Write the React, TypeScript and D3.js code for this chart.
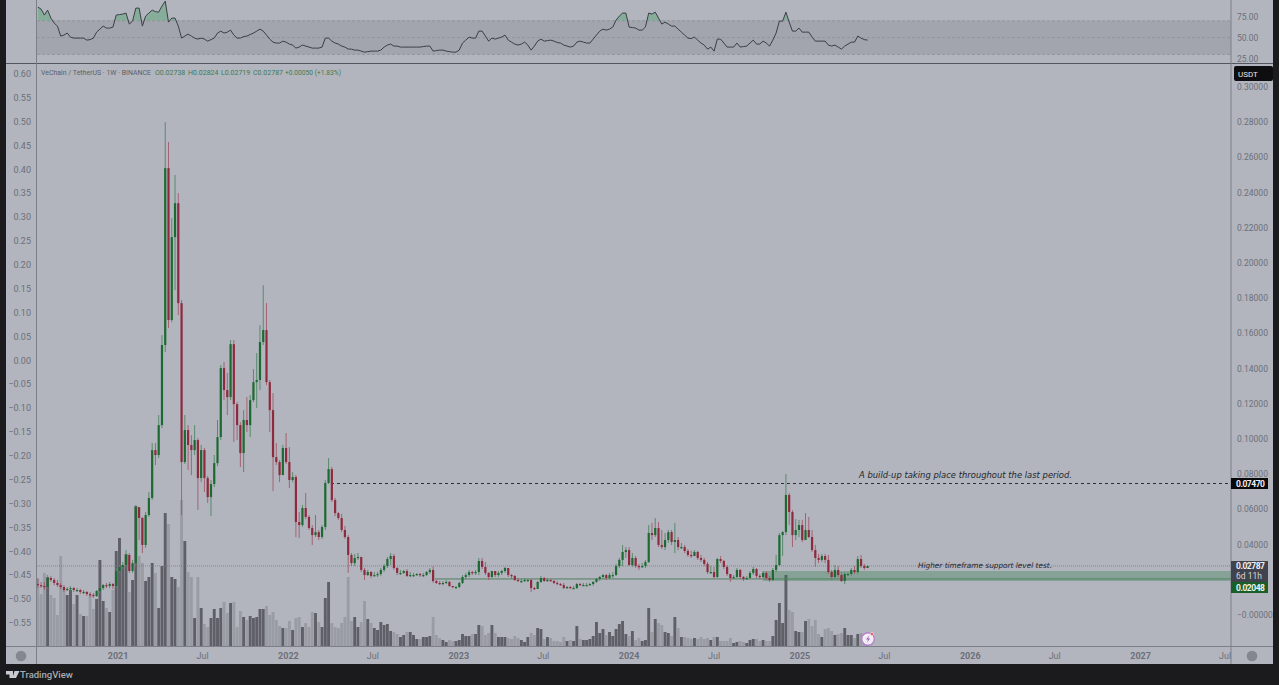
import * as d3 from "d3";
import * as React from "react";

// weekly VET/USDT candles. first candle is 2020-07-13
const closes = [
  0.017, 0.0165, 0.0159, 0.021, 0.0199, 0.0182, 0.017, 0.0159, 0.0142, 0.0148, 0.0153, 0.0142, 0.0142, 0.0131, 0.0131, 0.0119, 0.0114, 0.0108, 0.0136, 0.0153,
  0.017, 0.0165, 0.0176, 0.0165, 0.025, 0.0273, 0.0284, 0.0341, 0.025, 0.0295, 0.0613, 0.0551, 0.0398, 0.0568, 0.0665, 0.0937, 0.0909, 0.1079, 0.1534, 0.2539,
  0.1676, 0.2147, 0.234, 0.1772, 0.0869, 0.1051, 0.0966, 0.0937, 0.0994, 0.0778, 0.0937, 0.0778, 0.067, 0.0744, 0.0863, 0.1011, 0.1403, 0.1278, 0.1238, 0.1539,
  0.1198, 0.1079, 0.092, 0.1108, 0.1079, 0.1221, 0.1323, 0.1335, 0.1551, 0.1619, 0.1323, 0.1164, 0.0897, 0.0869, 0.0795, 0.0949, 0.0869, 0.0767, 0.0784, 0.0528,
  0.0511, 0.0608, 0.0557, 0.0494, 0.0454, 0.0471, 0.0443, 0.05, 0.075, 0.0829, 0.0653, 0.0579, 0.0551, 0.0483, 0.0443, 0.0341, 0.0295, 0.0324, 0.033, 0.0256,
  0.0227, 0.0244, 0.0222, 0.0227, 0.0233, 0.0256, 0.0278, 0.0318, 0.0335, 0.0267, 0.0239, 0.0239, 0.025, 0.0222, 0.0227, 0.0227, 0.0233, 0.0227, 0.0227, 0.0244,
  0.0256, 0.0193, 0.0182, 0.0176, 0.0182, 0.0188, 0.0165, 0.0159, 0.0159, 0.0182, 0.0216, 0.0227, 0.0244, 0.0239, 0.0244, 0.0307, 0.0273, 0.0239, 0.0216, 0.025,
  0.0227, 0.0239, 0.025, 0.0267, 0.0227, 0.0222, 0.0199, 0.0193, 0.0193, 0.0199, 0.0199, 0.0153, 0.0148, 0.0188, 0.021, 0.0193, 0.0199, 0.0193, 0.0182, 0.0176,
  0.017, 0.0153, 0.0159, 0.0153, 0.0153, 0.0176, 0.017, 0.017, 0.017, 0.0176, 0.0188, 0.0205, 0.0216, 0.0227, 0.021, 0.0227, 0.0227, 0.0278, 0.0313, 0.0358,
  0.0369, 0.0284, 0.0324, 0.0278, 0.0273, 0.0278, 0.0301, 0.0466, 0.0454, 0.0494, 0.0398, 0.0386, 0.0426, 0.0471, 0.0415, 0.0426, 0.0386, 0.0386, 0.0364, 0.0341,
  0.0335, 0.0358, 0.0324, 0.0313, 0.029, 0.0244, 0.0244, 0.0216, 0.0318, 0.0307, 0.0273, 0.0233, 0.021, 0.0216, 0.0256, 0.0216, 0.0205, 0.021, 0.0239, 0.0261,
  0.0222, 0.0216, 0.0239, 0.021, 0.0199, 0.0256, 0.0284, 0.0454, 0.0471, 0.0682, 0.0585, 0.0454, 0.0483, 0.0511, 0.0426, 0.0483, 0.0443, 0.0369, 0.0324, 0.0313,
  0.0335, 0.0313, 0.0244, 0.0216, 0.0256, 0.0227, 0.0193, 0.0233, 0.0233, 0.0256, 0.0244, 0.0318, 0.0278, 0.0267, 0.02787,
];

const highs = [
  0.021, 0.0188, 0.0188, 0.0227, 0.0222, 0.021, 0.0199, 0.0182, 0.017, 0.0159, 0.0165, 0.0159, 0.0153, 0.0148, 0.0142, 0.0136, 0.0131, 0.0125, 0.0142, 0.0159,
  0.0176, 0.0182, 0.0188, 0.0182, 0.0267, 0.0284, 0.0301, 0.0369, 0.0352, 0.0313, 0.0625, 0.0597, 0.0557, 0.0585, 0.0699, 0.0977, 0.0977, 0.1136, 0.159, 0.28,
  0.2687, 0.2255, 0.25, 0.2397, 0.1789, 0.1136, 0.1079, 0.1022, 0.1079, 0.1005, 0.0966, 0.0949, 0.079, 0.0767, 0.0909, 0.1108, 0.142, 0.1437, 0.1375, 0.1562,
  0.1562, 0.121, 0.1096, 0.1164, 0.1238, 0.125, 0.1397, 0.1488, 0.1647, 0.1874, 0.1772, 0.1335, 0.1261, 0.0977, 0.088, 0.0966, 0.1034, 0.0954, 0.0812, 0.0795,
  0.0585, 0.0625, 0.0693, 0.0568, 0.0511, 0.0568, 0.0483, 0.0511, 0.0767, 0.0892, 0.0841, 0.0665, 0.0585, 0.0574, 0.0506, 0.0454, 0.0352, 0.0347, 0.0352, 0.0313,
  0.0267, 0.0256, 0.025, 0.0244, 0.0244, 0.0267, 0.029, 0.033, 0.0352, 0.0347, 0.0273, 0.0256, 0.0256, 0.0261, 0.0244, 0.0239, 0.0239, 0.0239, 0.0239, 0.025,
  0.0267, 0.0278, 0.0199, 0.0193, 0.0193, 0.0199, 0.0193, 0.0165, 0.0165, 0.0188, 0.0227, 0.0239, 0.0256, 0.025, 0.0256, 0.0324, 0.0324, 0.0301, 0.0244, 0.025,
  0.025, 0.025, 0.0256, 0.0273, 0.0267, 0.0233, 0.0227, 0.021, 0.0205, 0.021, 0.0205, 0.0205, 0.0159, 0.0193, 0.0222, 0.0216, 0.021, 0.0205, 0.0199, 0.0193,
  0.0182, 0.0182, 0.0165, 0.0165, 0.0165, 0.0182, 0.0182, 0.0182, 0.0182, 0.0182, 0.0193, 0.021, 0.0222, 0.0233, 0.0233, 0.0239, 0.0244, 0.029, 0.0324, 0.0398,
  0.0386, 0.0386, 0.0352, 0.0335, 0.029, 0.0295, 0.0313, 0.0511, 0.0523, 0.0551, 0.0528, 0.0483, 0.0466, 0.0483, 0.0483, 0.0523, 0.0443, 0.0409, 0.0398, 0.0375,
  0.0364, 0.0369, 0.0364, 0.0341, 0.0324, 0.0301, 0.0278, 0.0273, 0.0324, 0.0335, 0.0313, 0.0284, 0.0233, 0.0227, 0.0267, 0.0261, 0.0222, 0.0222, 0.025, 0.0273,
  0.0267, 0.0233, 0.025, 0.025, 0.0222, 0.0267, 0.0341, 0.0466, 0.0477, 0.0801, 0.0693, 0.0596, 0.0545, 0.054, 0.054, 0.0579, 0.0557, 0.0483, 0.0398, 0.0347,
  0.0347, 0.0347, 0.0341, 0.0256, 0.0284, 0.0278, 0.0244, 0.0244, 0.0244, 0.0267, 0.0278, 0.0335, 0.0341, 0.029, 0.02824,
];

const lows = [
  0.0153, 0.0153, 0.0142, 0.0153, 0.0188, 0.017, 0.0159, 0.0148, 0.0131, 0.0136, 0.0136, 0.0131, 0.0131, 0.0119, 0.0119, 0.0108, 0.0102, 0.0097, 0.0102, 0.0125,
  0.0142, 0.0153, 0.0153, 0.0148, 0.0153, 0.0239, 0.0261, 0.0273, 0.0239, 0.0239, 0.0278, 0.0426, 0.0352, 0.0381, 0.0557, 0.0653, 0.0852, 0.0892, 0.1062, 0.1494,
  0.163, 0.1664, 0.1846, 0.1704, 0.0568, 0.0858, 0.0824, 0.0795, 0.0909, 0.0597, 0.0755, 0.0699, 0.0636, 0.0562, 0.0727, 0.0846, 0.0994, 0.1221, 0.1136, 0.1221,
  0.0983, 0.0994, 0.0841, 0.0812, 0.1039, 0.1011, 0.121, 0.1176, 0.1278, 0.1534, 0.1306, 0.1039, 0.0704, 0.0852, 0.0755, 0.0807, 0.0858, 0.0721, 0.0755, 0.0443,
  0.0437, 0.05, 0.0545, 0.0483, 0.0398, 0.0443, 0.0426, 0.0432, 0.0483, 0.0744, 0.0642, 0.0562, 0.054, 0.0471, 0.0432, 0.0239, 0.0278, 0.0278, 0.0313, 0.0244,
  0.0199, 0.0222, 0.021, 0.0216, 0.0216, 0.0222, 0.0244, 0.0267, 0.0284, 0.0256, 0.0227, 0.0227, 0.0233, 0.0216, 0.0216, 0.0216, 0.0222, 0.0216, 0.0216, 0.0222,
  0.0233, 0.0182, 0.0176, 0.017, 0.017, 0.0176, 0.0159, 0.0153, 0.0148, 0.0153, 0.0176, 0.0205, 0.0216, 0.0227, 0.0227, 0.0227, 0.0261, 0.0227, 0.0199, 0.021,
  0.0216, 0.0216, 0.0227, 0.0239, 0.0216, 0.0205, 0.0193, 0.0188, 0.0182, 0.0188, 0.0188, 0.0131, 0.0142, 0.0148, 0.0182, 0.0188, 0.0188, 0.0188, 0.0176, 0.017,
  0.0165, 0.0148, 0.0148, 0.0148, 0.0148, 0.0148, 0.0165, 0.0165, 0.0165, 0.0165, 0.0165, 0.0182, 0.0193, 0.0205, 0.0199, 0.0205, 0.021, 0.0222, 0.0267, 0.0278,
  0.0324, 0.0278, 0.0273, 0.0267, 0.0256, 0.0267, 0.0267, 0.0295, 0.0426, 0.0443, 0.0386, 0.0375, 0.0369, 0.0409, 0.0398, 0.0352, 0.0369, 0.0375, 0.0352, 0.033,
  0.0324, 0.0335, 0.0313, 0.0301, 0.0278, 0.0233, 0.0233, 0.0205, 0.021, 0.0295, 0.0261, 0.0222, 0.0188, 0.0205, 0.021, 0.0205, 0.0193, 0.0199, 0.0205, 0.0227,
  0.021, 0.0205, 0.021, 0.0199, 0.0188, 0.0193, 0.0244, 0.0278, 0.0335, 0.0454, 0.0511, 0.0386, 0.0426, 0.0443, 0.0415, 0.0443, 0.0437, 0.0358, 0.0273, 0.0295,
  0.0301, 0.0295, 0.0233, 0.0199, 0.021, 0.0216, 0.0188, 0.0176, 0.0222, 0.0222, 0.0233, 0.0233, 0.0267, 0.0256, 0.02719,
];

// volume in picture-height units
const volumes = [
  68, 53, 74, 70, 52, 49, 32, 91, 59, 52, 57, 43, 52, 33, 31, 31, 52, 38, 48, 87,
  46, 39, 35, 57, 96, 109, 81, 93, 55, 67, 141, 91, 84, 66, 70, 84, 74, 39, 81, 134,
  123, 70, 68, 60, 147, 106, 75, 70, 29, 70, 39, 23, 20, 29, 38, 29, 39, 45, 34, 44,
  45, 20, 36, 30, 27, 31, 29, 30, 38, 38, 41, 32, 35, 27, 21, 19, 19, 26, 17, 29,
  30, 20, 24, 20, 35, 34, 25, 20, 49, 65, 24, 20, 19, 24, 30, 70, 26, 30, 20, 25,
  46, 28, 24, 19, 17, 25, 22, 23, 16, 15, 13, 10, 12, 15, 15, 12, 8, 8, 10, 10,
  11, 30, 12, 9, 7, 5, 7, 6, 6, 7, 13, 11, 11, 13, 13, 22, 21, 12, 14, 22,
  14, 10, 10, 10, 9, 8, 11, 9, 7, 5, 10, 14, 12, 19, 18, 8, 10, 9, 6, 6,
  5, 10, 6, 7, 6, 21, 8, 7, 7, 8, 11, 25, 14, 18, 12, 15, 11, 18, 23, 26,
  13, 11, 16, 7, 9, 6, 7, 39, 15, 28, 24, 22, 15, 14, 11, 30, 19, 10, 10, 9,
  8, 9, 8, 10, 8, 9, 7, 10, 10, 6, 6, 6, 9, 4, 5, 6, 5, 4, 7, 8,
  8, 6, 7, 6, 6, 11, 27, 44, 24, 72, 37, 35, 16, 15, 15, 26, 28, 21, 27, 13,
  10, 18, 19, 16, 12, 13, 14, 19, 12, 12, 9, 13, 14, 7, 4,
];

const rsi = [
  86.3, 83.9, 76.8, 82.7, 73.2, 67.3, 63.7, 51.8, 53, 55.4, 50.6, 49.4, 49.4, 49.4, 49.4, 47, 47.6, 49.4, 56.5, 60.1,
  63.7, 61.3, 61.3, 62.5, 76.8, 77.4, 78, 79.2, 66.1, 69.6, 85.1, 85.1, 63.7, 75.6, 79.2, 82.7, 80.9, 80.3, 87.5, 93.4,
  68.4, 73.2, 73.2, 63.7, 49.4, 51.8, 54.2, 51.8, 49.4, 48.2, 49.4, 48.2, 45.8, 47.6, 49.4, 55.4, 57.7, 55.4, 56.5, 58.9,
  53, 49.4, 49.4, 51.2, 51.8, 53.6, 55.4, 57.7, 60.1, 57.7, 53, 48.2, 44.6, 43.5, 43.5, 45.8, 44.6, 42.3, 41.1, 37.5,
  38.7, 41.1, 39.9, 38.7, 37.5, 37.5, 37.5, 38.7, 49.4, 49.4, 45.8, 43.5, 42.3, 39.9, 38.7, 36.3, 36.3, 35.1, 35.1, 33.9,
  32.7, 33.3, 33.9, 33.9, 33.9, 35.1, 38.7, 41.1, 42.3, 39.9, 39.9, 38.7, 38.7, 38.7, 38.7, 38.7, 38.7, 38.7, 39.3, 39.9,
  39.9, 33.9, 34.5, 35.1, 35.1, 33.9, 33.3, 32.7, 32.7, 35.1, 43.5, 47, 50.6, 49.4, 49.4, 57.7, 57.7, 51.8, 45.8, 49.4,
  48.2, 49.4, 50.6, 53, 47, 44.6, 42.3, 41.1, 42.3, 44.6, 41.1, 35.1, 39.9, 45.8, 48.2, 45.8, 46.4, 47, 45.8, 44.1,
  43.5, 41.1, 39.9, 38.7, 39.9, 44.6, 45.8, 44.6, 43.5, 43.5, 48.2, 53, 57.7, 60.1, 58.9, 60.1, 62.5, 70.8, 75.6, 79.2,
  79.2, 62.5, 61.9, 61.3, 58.9, 58.9, 62.5, 79.2, 78, 80.3, 73.2, 66.1, 68.4, 66.1, 63.7, 63.7, 60.1, 56.5, 53, 49.4,
  48.8, 50.6, 47, 43.5, 41.1, 36.3, 38.7, 33.9, 48.2, 48.2, 43.5, 38.7, 38.7, 38.7, 43.5, 38.7, 39.3, 39.9, 43.5, 47,
  42.3, 42.3, 45.8, 43.5, 39.9, 47, 55.4, 69.6, 69.6, 80.3, 68.4, 57.7, 57.7, 61.3, 56.5, 56.5, 56.5, 50.6, 45.8, 45.8,
  45.8, 45.8, 41.1, 39.9, 41.1, 38.7, 36.3, 39.9, 42.3, 44.6, 44.6, 51.8, 49.4, 47.6, 47,
];

const leftTicks = [0.6, 0.55, 0.5, 0.45, 0.4, 0.35, 0.3, 0.25, 0.2, 0.15, 0.1, 0.05, 0, -0.05, -0.1, -0.15, -0.2, -0.25, -0.3, -0.35, -0.4, -0.45, -0.5, -0.55];
const rightTicks = [0.3, 0.28, 0.26, 0.24, 0.22, 0.2, 0.18, 0.16, 0.14, 0.12, 0.1, 0.08, 0.06, 0.04, 0];
const rsiTicks = [75, 50, 25];
const rsiLevels = [70, 50, 30];

const resistance = 0.0747;
const support = 0.02048;
const lastPrice = 0.02787;
const zoneTop = 0.025;
const zoneBottom = 0.0193;

const WEEK = 7 * 864e5;
const firstWeek = Date.UTC(2020, 6, 13);
const dates = closes.map((d, i) => new Date(firstWeek + i * WEEK));
const opens = closes.map((d, i) => (i === 0 ? 0.0176 : closes[i - 1]));

const x = d3.scaleUtc().domain([Date.UTC(2021, 0, 4), Date.UTC(2027, 0, 4)]).range([119.5, 1142]);
const y = d3.scaleLinear().domain([0, 0.3]).range([615, 87]);
const yLeft = d3.scaleLinear().domain([-0.55, 0.6]).range([623, 74]);
const yVol = d3.scaleLinear().domain([0, 147]).range([647, 500]);
const yRsi = d3.scaleLinear().domain([30, 70]).range([54.4, 20.8]);

const rsiLine = d3.line<number>().x((d, i) => x(dates[i])).y((d) => yRsi(d));
const rsiArea = d3.area<number>().x((d, i) => x(dates[i])).y0(yRsi(70)).y1((d) => yRsi(d));

const timeTicks = d3.utcMonth.every(6)!.range(new Date(Date.UTC(2021, 0, 1)), new Date(Date.UTC(2027, 7, 1)));

const font = "Roboto, 'Liberation Sans', sans-serif";
const bg = "#b2b5be";
const axisText = "#6c6f79";
const up = "#1d6a31";
const down = "#8e2b3e";

const minus = (s: string) => s.replace("-", "\u2212");

export default function App() {
  return (
    <svg width={1279} height={685} style={{ position: "absolute", left: 0, top: 0, background: "#1b1b1d" }} fontFamily={font}>
      <defs>
        <clipPath id="overbought">
          <rect x={37} y={0} width={1194} height={yRsi(70)} />
        </clipPath>
        <clipPath id="timeaxis">
          <rect x={37} y={647} width={1194} height={18} />
        </clipPath>
        <filter id="soft" x="0" y="0" width="100%" height="100%">
          <feGaussianBlur stdDeviation="0.35" />
        </filter>
      </defs>

      <rect x={6} y={0} width={1267} height={664} fill={bg} />

      {/* RSI pane */}
      <rect x={37} y={yRsi(70)} width={1194} height={yRsi(30) - yRsi(70)} fill="#a2a5ae" />
      {rsiLevels.map((d) => (
        <line key={d} x1={37} x2={1231} y1={yRsi(d)} y2={yRsi(d)} stroke="#8e9098" strokeWidth={0.8} strokeDasharray="3 2" />
      ))}
      <path d={rsiArea(rsi) ?? ""} fill="#3f9f5f" fillOpacity={0.38} clipPath="url(#overbought)" />
      <path d={rsiLine(rsi) ?? ""} fill="none" stroke="#3c3e46" strokeWidth={1} />
      {rsiTicks.map((d) => (
        <text key={d} x={1237} y={yRsi(d)} dy="0.35em" fontSize={8.5} fill={axisText}>
          {d.toFixed(2)}
        </text>
      ))}

      {/* volume */}
      <g filter="url(#soft)">
        {volumes.map((d, i) => (
          <rect
            key={i}
            x={x(dates[i]) - 1.45}
            y={yVol(d)}
            width={2.9}
            height={yVol(0) - yVol(d)}
            fill={closes[i] >= opens[i] ? "#5e5f67" : "#9a9ca4"}
          />
        ))}
      </g>

      {/* levels */}
      <line x1={37} x2={1231} y1={y(lastPrice)} y2={y(lastPrice)} stroke="#767982" strokeWidth={0.8} strokeDasharray="1 1" />
      <rect x={763} y={y(zoneTop)} width={468} height={y(zoneBottom) - y(zoneTop)} fill="#2b7a45" fillOpacity={0.32} />
      <line x1={435} x2={1231} y1={y(support)} y2={y(support)} stroke="#4f7f5f" strokeWidth={1} />
      <line x1={331} x2={1231} y1={y(resistance)} y2={y(resistance)} stroke="#1f2024" strokeWidth={0.9} strokeDasharray="3 3" />

      {/* candles */}
      <g filter="url(#soft)">
        {closes.map((c, i) => {
          const o = opens[i];
          const isUp = c >= o;
          const cx = x(dates[i]);
          const top = y(Math.max(o, c));
          const bottom = y(Math.min(o, c));
          return (
            <g key={i}>
              <line x1={cx} x2={cx} y1={y(highs[i])} y2={y(lows[i])} stroke={isUp ? "#4f8463" : "#a3596a"} strokeWidth={0.9} />
              <rect x={cx - 1.1} y={top} width={2.2} height={Math.max(bottom - top, 1.2)} fill={isUp ? up : down} />
            </g>
          );
        })}
      </g>

      {/* annotations */}
      <text x={859} y={478} fontFamily="'DejaVu Sans', sans-serif" fontStyle="italic" fontSize={9} fill="#25262b" textLength={213} lengthAdjust="spacingAndGlyphs">
        A build-up taking place throughout the last period.
      </text>
      <text x={918} y={568} fontFamily="'DejaVu Sans', sans-serif" fontStyle="italic" fontSize={7.5} fill="#25262b" textLength={134} lengthAdjust="spacingAndGlyphs">
        Higher timeframe support level test.
      </text>

      {/* bolt badge */}
      <g>
        <circle cx={868} cy={639} r={6.3} fill="#f3eef6" stroke="#b583c9" strokeWidth={1.4} />
        <path d={d3.line()([[869.5, 635], [866, 639.5], [868.2, 639.5], [866.6, 643], [870.2, 638.4], [868, 638.4]]) + "Z"} fill="#9a5fb5" />
        <circle cx={872} cy={634} r={1.6} fill="#e8505b" stroke="#f3eef6" strokeWidth={0.6} />
      </g>

      {/* legend */}
      <text x={41} y={75} fontSize={7} fill="#5c5f69" textLength={110} lengthAdjust="spacingAndGlyphs">
        VeChain / TetherUS · 1W · BINANCE
      </text>
      <g fontSize={7} fill="#3d7a52">
        <text x={155} y={75}>O0.02738</text>
        <text x={188} y={75}>H0.02824</text>
        <text x={221} y={75}>L0.02719</text>
        <text x={253} y={75}>C0.02787</text>
        <text x={285} y={75} textLength={56} lengthAdjust="spacingAndGlyphs">+0.00050 (+1.83%)</text>
      </g>

      {/* axes */}
      <line x1={6} x2={1273} y1={63.5} y2={63.5} stroke="#54565e" strokeWidth={1} />
      <line x1={6} x2={1273} y1={646.5} y2={646.5} stroke="#7d7f88" strokeWidth={1} />
      <line x1={36.5} x2={36.5} y1={0} y2={664} stroke="#7d7f88" strokeWidth={1} />
      <line x1={1231} x2={1231} y1={0} y2={664} stroke="#7d7f88" strokeWidth={1} />

      {leftTicks.map((d) => (
        <text key={d} x={31} y={yLeft(d)} dy="0.35em" textAnchor="end" fontSize={9} fill={axisText}>
          {minus(d.toFixed(2))}
        </text>
      ))}
      {rightTicks.map((d) => (
        <text key={d} x={1237} y={y(d)} dy="0.35em" fontSize={8.5} fill={axisText}>
          {d === 0 ? "\u22120.00000" : d.toFixed(5)}
        </text>
      ))}

      <g clipPath="url(#timeaxis)">
        {timeTicks.map((d) => {
          const isYear = d.getUTCMonth() === 0;
          return (
            <text key={d.getTime()} x={x(d)} y={659} textAnchor="middle" fontSize={9} fontWeight={isYear ? 700 : 400} fill={axisText}>
              {isYear ? d3.utcFormat("%Y")(d) : d3.utcFormat("%b")(d)}
            </text>
          );
        })}
      </g>

      <circle cx={21} cy={656} r={5.3} fill="#85878f" />
      <circle cx={1252} cy={656} r={5.3} fill="#85878f" />

      {/* price tags */}
      <rect x={1234} y={66} width={39} height={15} rx={2} fill="#0e0e10" />
      <text x={1238} y={76.5} fontSize={8} fill="#e6e6e8">USDT</text>

      <rect x={1231} y={478} width={37} height={11} fill="#08080a" />
      <text x={1236} y={y(resistance)} dy="0.35em" fontSize={8.5} fontWeight={700} fill="#f0f0f2" textLength={29}>{resistance.toFixed(5)}</text>

      <rect x={1231} y={561} width={37} height={21} fill="#40434e" />
      <text x={1236} y={569} fontSize={8.5} fontWeight={700} fill="#f0f0f2" textLength={29}>{lastPrice.toFixed(5)}</text>
      <text x={1236} y={579} fontSize={8.5} fill="#d5d6da">6d 11h</text>

      <rect x={1231} y={582} width={37} height={11} fill="#1b5f28" />
      <text x={1236} y={591} fontSize={8.5} fontWeight={700} fill="#eef4ee" textLength={29}>{support.toFixed(5)}</text>

      {/* footer */}
      <path d="M6 671h7v7h-3.5v-3.5H6zM14.5 671h5l-3.5 7h-3.5z" fill="#c9cbd1" />
      <text x={20} y={678} fontSize={9.5} fontWeight={500} fill="#a9abb2">TradingView</text>
    </svg>
  );
}
